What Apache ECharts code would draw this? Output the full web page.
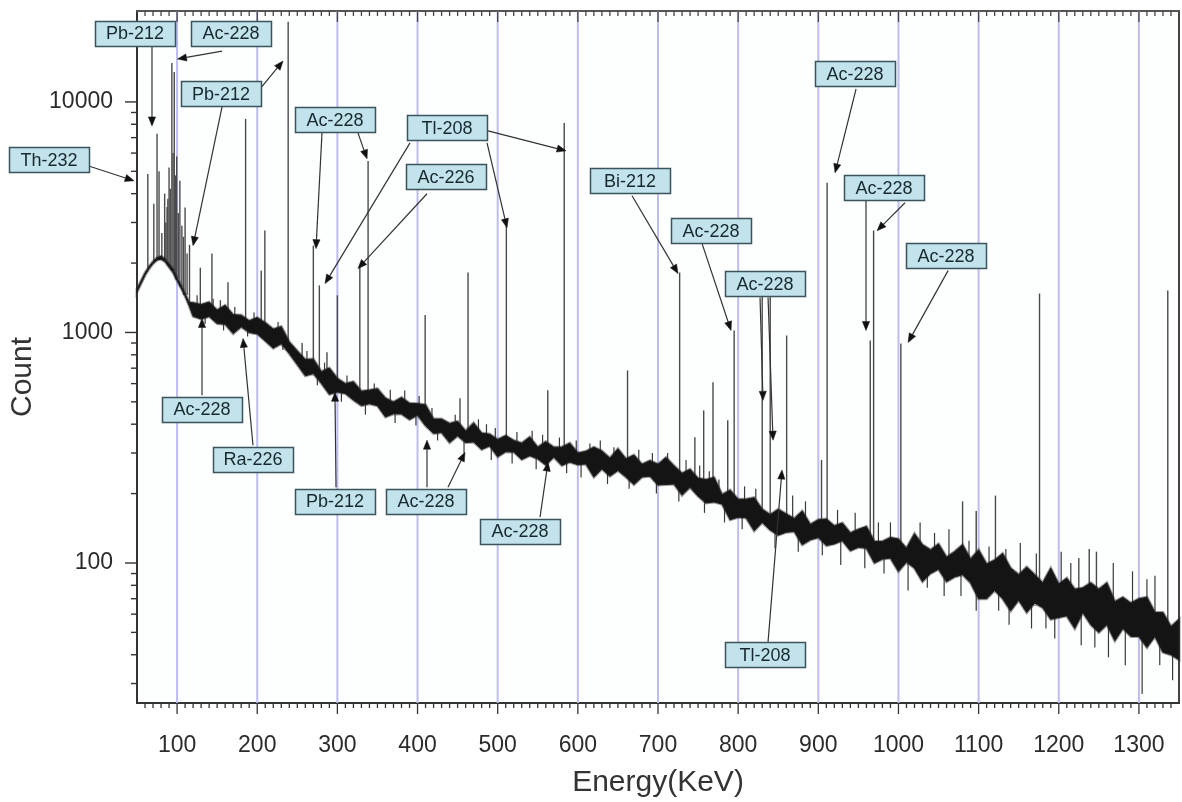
<!DOCTYPE html>
<html><head><meta charset="utf-8">
<script src="https://cdn.jsdelivr.net/npm/echarts@6.0.0/dist/echarts.min.js"></script>
<style>html,body{margin:0;padding:0;background:#fff}#c{width:1182px;height:802px}</style>
</head><body><div id="c"></div>
<script>
// ---------- data ----------
const xTickLabels = [100,200,300,400,500,600,700,800,900,1000,1100,1200,1300];
const yTickLabels = [100,1000,10000];
const yMinorTicks = [30,40,50,60,70,80,90,200,300,400,500,600,700,800,900,2000,3000,4000,5000,6000,7000,8000,9000,20000];

// continuum (noise band) envelope
const contE = [50,55,60,65,70,75,80,85,90,95,100,105,110,115,
 120,130,140,150,160,170,180,190,200,210,220,230,240,250,260,270,280,290,300,310,
 320,330,340,350,360,370,380,390,400,410,420,430,440,450,460,470,480,490,500,510,
 520,530,540,550,560,570,580,590,600,610,620,630,640,650,660,670,680,690,700,710,
 720,730,740,750,760,770,780,790,800,810,820,830,840,850,860,870,880,890,900,910,
 920,930,940,950,960,970,980,990,1000,1010,1020,1030,1040,1050,1060,1070,1080,1090,1100,1110,
 1120,1130,1140,1150,1160,1170,1180,1190,1200,1210,1220,1230,1240,1250,1260,1270,1280,1290,1300,1310,
 1320,1330,1340,1350];
const contHi = [1540,1670,1810,1930,2030,2110,2140,2080,1980,1880,1720,1600,1470,1350,
 1345,1321,1354,1251,1311,1195,1188,1123,1160,1102,1034,1060,910,832,763,766,676,701,632,599,
 611,556,562,570,519,499,522,493,491,485,421,421,403,411,374,405,366,362,343,357,
 340,331,352,318,336,318,318,331,300,305,318,306,285,313,283,294,268,278,268,287,
 264,245,255,233,230,235,198,207,189,189,192,171,162,171,163,156,168,147,154,155,
 145,149,135,140,144,124,124,129,127,116,134,120,114,121,106,112,120,104,114,99,
 103,110,95,89,96,89,82,95,81,86,77,78,82,77,82,68,71,67,70,71,
 61,61,53,57];
const contLo = [1500,1630,1770,1890,1990,2060,2080,2030,1920,1820,1680,1560,1440,1310,
 1175,1144,1173,1093,1085,989,1058,1000,986,919,855,894,810,726,649,663,602,539,552,543,
 509,482,491,481,430,444,443,419,438,394,365,368,333,356,333,335,311,322,289,304,
 303,281,292,283,266,288,265,274,267,269,236,256,238,252,236,219,236,238,218,219,
 220,197,213,195,182,184,180,154,158,157,138,150,139,132,136,137,120,126,129,119,
 121,125,113,117,116,100,104,105,92,101,95,83,90,94,83,87,89,82,70,70,
 76,70,62,69,61,67,64,57,58,59,52,61,54,50,54,46,52,48,48,43,
 48,41,40,38];

// photo-peaks: energy (keV) and peak-top count
const peakEnergy = [63.5,71,75,77.5,81,84.5,86,87.5,88.5,90,91.5,93.5,95,96.5,98,99.5,101.5,103.5,106,108,
 110,112.5,115.5,129,143.5,154,163.5,185.5,205,
 209.5,238.6,256,270,277.5,287,300,328,338.3,409.5,453,463,510.8,562.5,583,662,727,746,757,768.6,
 787,795,830,840,860.5,904,911,964.8,969,1003,1080,1097,1121,1176,1225,1238,1247,1336];
const peakCount = [4870,3620,7270,5000,2700,4000,3000,3500,3800,5200,4200,14750,6000,13500,4800,5800,3300,4550,2900,2600,
 3480,2200,2400,1910,2200,1380,1650,8440,1850,
 2770,22300,900,2380,1600,820,1450,1950,5550,1190,518,1820,2900,561,8110,684,1820,351,459,608,
 416,1020,1490,1490,970,280,4460,923,2770,896,185,168,196,1475,105,115,112,1520];

// single-channel noise spikes (up and down from the band)
const spikeEnergy = [125,145,172,196,226,262,284,312,346,366,384,402,418,447,476,486,497,524,543,556,
 577,598,615,628,645,676,693,712,735,752,764,776,808,822,868,884,924,946,975,990,
 1027,1045,1063,1088,1113,1134,1152,1172,1203,1215,1268,1292,1310,1320,
 135,158,188,232,275,305,335,372,398,425,458,492,518,548,586,604,637,664,698,726,
 758,783,805,846,875,905,928,958,982,1012,1036,1057,1078,1097,1125,1138,1166,1184,1195,1228,
 1245,1262,1283,1304,1326,1342];
const spikeCount = [1450,1400,1290,1220,1110,830,740,650,600,565,560,530,470,440,420,400,385,370,375,360,
 350,340,330,340,318,310,300,300,280,265,250,230,215,210,196,185,170,165,150,150,
 150,135,140,125,118,115,122,110,112,100,100,92,85,88,
 1090,1020,960,840,590,500,440,405,395,340,300,280,270,255,245,235,220,210,200,185,
 165,150,140,116,112,108,98,95,90,76,78,72,72,62,62,54,52,52,47,44,
 43,39,36,27,36,31];

// annotations
const annText = ['Pb-212','Ac-228','Pb-212','Th-232','Ac-228','Tl-208','Ac-226','Bi-212','Ac-228','Ac-228',
 'Ac-228','Ac-228','Ac-228','Ac-228','Ra-226','Pb-212','Ac-228','Ac-228','Tl-208'];
// arrows: [from energy, from count, to energy, to count]
const annArrows = [
 [68.7,17470,68.7,7870],
 [156.1,16620,100.6,15350],
 [203.5,11380,232.2,15050],[156.1,9515,119.9,2380],
 [-11.1,5284,46.3,4550],
 [280.8,7340,273.3,2310],[325.7,7340,337,5665],
 [487.9,7489,585.2,6137],[486.7,6645,511.6,2848],[390.6,6645,284.6,1630],
 [411.8,3997,325.7,1893],
 [667.6,3919,725,1800],
 [755,2428,791.1,1020],
 [827.3,1418,831,508],[837.3,1418,843.5,341],
 [947.1,11380,920.9,4927],
 [959.5,3727,959.5,1020],[1008.2,3654,973.3,2764],
 [1061.9,1855,1012,905],
 [131.1,534,131.1,1150],
 [194.7,324,182.3,942],
 [298.3,213,297,550],
 [411.8,213,411.8,341],[438,213,459.2,302],
 [552.8,158,562.8,274],
 [837.3,45.5,854.7,253]
];
// layout: label box centres (in axis units)
const annBoxAt = [[47.5,19900],[167.3,19900],[154.8,10830],[-59.8,5610],[297,8360],[436.8,7718],[435.5,4735],
 [665.1,4550],[766.2,2764],[833.5,1630],[945.8,13220],[982,4244],[1059.4,2154],[131.1,464],[194.7,282],
 [297,185.5],[410.6,185.5],[527.9,137.5],[833.5,40]];

// ---------- chart ----------
const X_MIN = 50, X_MAX = 1350, Y_MIN = 24.7, Y_MAX = 24800;
const FONT = '"Liberation Sans", Arial, sans-serif';

const xTickVals = [];
for (let v = 60; v < X_MAX; v += 10) xTickVals.push(v);

function baseAt(E) {
  let b = 0;
  for (let i = 1; i < contE.length; i++) if (Math.abs(contE[i] - E) < Math.abs(contE[b] - E)) b = i;
  return Math.sqrt(contHi[b] * contLo[b]);
}

const chart = echarts.init(document.getElementById('c'), null, {renderer: 'canvas'});
chart.setOption({
  animation: false,
  backgroundColor: '#ffffff',
  grid: {left: 137, right: 3, top: 11, bottom: 99, containLabel: false, outerBoundsMode: 'none',
         show: true, borderColor: '#444', borderWidth: 2, backgroundColor: '#fdfefe'},
  xAxis: [{
    type: 'value', position: 'bottom', min: X_MIN, max: X_MAX, splitNumber: 13,
    axisLine: {show: true, onZero: false, lineStyle: {color: '#333', width: 2}},
    axisTick: {show: false}, splitLine: {show: false},
    axisLabel: {show: true, margin: 31, fontSize: 23, color: '#2b2b2b', fontFamily: FONT,
      customValues: xTickLabels,
      formatter: v => (xTickLabels.indexOf(Math.round(v)) >= 0 ? String(Math.round(v)) : '')},
    name: 'Energy(KeV)', nameLocation: 'middle', nameGap: 65,
    nameTextStyle: {fontSize: 30, color: '#333', fontFamily: FONT}
  }, {
    type: 'value', position: 'top', min: X_MIN, max: X_MAX,
    axisLine: {show: true, onZero: false, lineStyle: {color: '#555', width: 2}},
    axisTick: {show: false}, axisLabel: {show: false}, splitLine: {show: false}
  }],
  yAxis: [{
    type: 'log', position: 'left', min: Y_MIN, max: Y_MAX, logBase: 10,
    axisLine: {show: true, onZero: false, lineStyle: {color: '#333', width: 2}},
    axisTick: {show: false}, splitLine: {show: false}, minorTick: {show: false},
    axisLabel: {show: true, margin: 24, fontSize: 23, color: '#2b2b2b', fontFamily: FONT,
      showMinLabel: false, showMaxLabel: false,
      formatter: v => (yTickLabels.indexOf(Math.round(v)) >= 0 ? String(Math.round(v)) : '')},
    name: 'Count', nameLocation: 'middle', nameGap: 90, nameRotate: 90,
    nameTextStyle: {fontSize: 30, color: '#333', fontFamily: FONT, padding: [0, 40, 0, 0]}
  }],
  series: [
    { // vertical grid lines
      type: 'custom', coordinateSystem: 'cartesian2d', z: 1, silent: true,
      encode: {x: 0, y: 1},
      data: xTickLabels.map(v => [v, 100]),
      renderItem: (params, api) => {
        const cs = params.coordSys;
        const x = api.coord([api.value(0), 100])[0];
        return {type: 'line', shape: {x1: x, y1: cs.y, x2: x, y2: cs.y + cs.height},
                style: {stroke: '#bdbdee', lineWidth: 2}};
      }
    },
    { // peaks
      type: 'custom', coordinateSystem: 'cartesian2d', z: 2, silent: true,
      encode: {x: 0, y: 1},
      data: peakEnergy.map((e, i) => [e, peakCount[i]]),
      renderItem: (params, api) => {
        const E = api.value(0), C = api.value(1);
        const p1 = api.coord([E, baseAt(E)]), p2 = api.coord([E, C]);
        return {type: 'line', shape: {x1: p1[0], y1: p1[1], x2: p2[0], y2: p2[1]},
                style: {stroke: '#4a4a4a', lineWidth: 1.4}};
      }
    },
    { // noise spikes
      type: 'custom', coordinateSystem: 'cartesian2d', z: 2, silent: true,
      encode: {x: 0, y: 1},
      data: spikeEnergy.map((e, i) => [e, spikeCount[i]]),
      renderItem: (params, api) => {
        const E = api.value(0), C = api.value(1);
        const p1 = api.coord([E, baseAt(E)]), p2 = api.coord([E, C]);
        return {type: 'line', shape: {x1: p1[0], y1: p1[1], x2: p2[0], y2: p2[1]},
                style: {stroke: '#3a3a3a', lineWidth: 1.2}};
      }
    },
    { // continuum band
      type: 'custom', coordinateSystem: 'cartesian2d', z: 3, silent: true,
      encode: {x: 0, y: 1},
      data: [[contE[0], contHi[0]]],
      renderItem: (params, api) => {
        const pts = [];
        for (let i = 0; i < contE.length; i++) pts.push(api.coord([contE[i], contHi[i]]));
        for (let i = contE.length - 1; i >= 0; i--) pts.push(api.coord([contE[i], contLo[i]]));
        return {type: 'group', children: [
          {type: 'polygon', shape: {points: pts}, style: {fill: 'none', stroke: 'rgba(40,40,40,0.45)', lineWidth: 3}},
          {type: 'polygon', shape: {points: pts}, style: {fill: '#141414', stroke: '#1e1e1e', lineWidth: 1}}
        ]};
      }
    },
    { // x ticks (top inward, bottom outward)
      type: 'custom', coordinateSystem: 'cartesian2d', z: 4, silent: true, clip: false,
      encode: {x: 0, y: 1},
      data: xTickVals.map(v => [v, 100]),
      renderItem: (params, api) => {
        const cs = params.coordSys;
        const v = api.value(0);
        const major = xTickLabels.indexOf(v) >= 0;
        const x = api.coord([v, 100])[0];
        const len = major ? 11 : 5;
        const top = cs.y, bot = cs.y + cs.height;
        return {type: 'group', children: [
          {type: 'line', shape: {x1: x, y1: bot, x2: x, y2: bot + len}, style: {stroke: '#333', lineWidth: 1.3}},
          {type: 'line', shape: {x1: x, y1: top, x2: x, y2: top + len}, style: {stroke: '#444', lineWidth: 1.3}}
        ]};
      }
    },
    { // y ticks (outward)
      type: 'custom', coordinateSystem: 'cartesian2d', z: 4, silent: true, clip: false,
      encode: {x: 0, y: 1},
      data: yTickLabels.concat(yMinorTicks).map(v => [X_MIN, v]),
      renderItem: (params, api) => {
        const cs = params.coordSys;
        const v = api.value(1);
        const major = yTickLabels.indexOf(v) >= 0;
        const y = api.coord([X_MIN, v])[1];
        const len = major ? 12 : 6;
        return {type: 'line', shape: {x1: cs.x - len, y1: y, x2: cs.x, y2: y}, style: {stroke: '#333', lineWidth: 1.4}};
      }
    },
    { // annotation arrows
      type: 'custom', coordinateSystem: 'cartesian2d', z: 5, silent: true, clip: false,
      encode: {x: 0, y: 1},
      data: annArrows.map(a => [a[2], a[3]]),
      renderItem: (params, api) => {
        const a = annArrows[params.dataIndex];
        const s = api.coord([a[0], a[1]]), p = api.coord([a[2], a[3]]);
        const dx = p[0] - s[0], dy = p[1] - s[1];
        const L = Math.hypot(dx, dy) || 1;
        const ux = dx / L, uy = dy / L;
        const hl = 9, hw = 3.6;
        const bx = p[0] - ux * hl, by = p[1] - uy * hl;
        return {type: 'group', children: [
          {type: 'line', shape: {x1: s[0], y1: s[1], x2: bx, y2: by}, style: {stroke: '#333', lineWidth: 1.2}},
          {type: 'polygon', shape: {points: [[p[0], p[1]], [bx - uy * hw, by + ux * hw], [bx + uy * hw, by - ux * hw]]},
           style: {fill: '#111', stroke: '#111', lineWidth: 0.5}}
        ]};
      }
    },
    { // annotation boxes
      type: 'custom', coordinateSystem: 'cartesian2d', z: 6, silent: true, clip: false,
      encode: {x: 0, y: 1},
      data: annBoxAt.map(b => [b[0], b[1]]),
      renderItem: (params, api) => {
        const i = params.dataIndex;
        const c = api.coord(annBoxAt[i]);
        const w = 80, h = 25;
        return {type: 'group', children: [
          {type: 'rect', shape: {x: Math.round(c[0] - w / 2) + 0.5, y: Math.round(c[1] - h / 2) + 0.5, width: w, height: h},
           style: {fill: '#c2e3eb', stroke: '#3a535c', lineWidth: 1.5}},
          {type: 'text', x: c[0], y: c[1] + 1,
           style: {text: annText[i], fill: '#17292e', font: '18px ' + FONT,
                   align: 'center', verticalAlign: 'middle', textAlign: 'center', textVerticalAlign: 'middle'}}
        ]};
      }
    }
  ]
});
</script>
</body></html>
